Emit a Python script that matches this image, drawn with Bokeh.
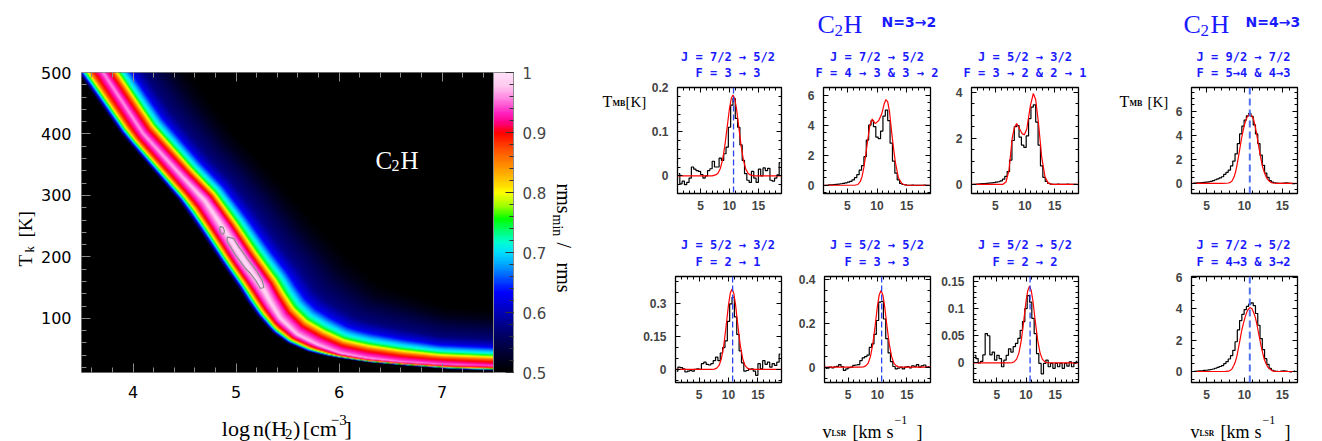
import numpy as np
from bokeh.plotting import figure
from bokeh.layouts import row, column
from bokeh.models import (LinearColorMapper, ColorBar, SingleIntervalTicker, LinearAxis, Label, Span,
                          CustomJSTickFormatter, Range1d, Spacer)
from bokeh.embed import file_html
from bokeh.resources import INLINE

# ===================== DATA =====================
# --- rms_min/rms map of C2H (log n(H2) vs Tk) ---
logn_range = (3.5, 7.5)
tk_range = (12, 500)
# crest of the map (brightest band)
ridge_logn = [3.45, 3.71, 4.10, 4.48, 4.70, 4.89, 5.07, 5.26, 5.33, 5.43, 5.59, 5.79, 6.01, 6.27, 6.60, 7.00, 7.50, 8.00]
ridge_tk   = [560, 500, 400, 330, 291, 243, 195, 149, 127, 100, 74, 57, 43, 35, 29, 25, 22.5, 21.5]
ridge_peak = [0.96, 0.96, 0.965, 0.975, 0.985, 0.995, 1.0, 0.995, 0.99, 0.985, 0.98, 0.975, 0.97, 0.965, 0.96, 0.955, 0.945, 0.94]
# where the map falls to 0.5 below / above the crest
lower_edge_logn = [3.20, 3.46, 3.88, 4.24, 4.44, 4.64, 4.83, 5.02, 5.10, 5.21, 5.36, 5.50, 5.70, 5.885, 6.30, 6.73, 7.10, 7.50, 8.00]
lower_edge_tk   = [560, 500, 400, 330, 291, 243, 195, 149, 127, 102, 75, 59, 45, 38, 28, 22, 17, 15, 14]
upper_edge_logn = [4.30, 4.55, 5.00, 5.45, 5.755, 6.10, 6.40, 7.05, 7.50, 8.00]
upper_edge_tk   = [560, 500, 400, 320, 260, 200, 157, 120, 115, 112]
# value profile across the band (fraction of the distance crest -> edge)
lower_prof_u = [0, 0.12, 0.3, 0.45, 0.55, 0.63, 0.7, 0.77, 0.87, 1.0]
lower_prof_v = [1.0, 0.97, 0.94, 0.9, 0.85, 0.8, 0.75, 0.7, 0.6, 0.5]
upper_prof_u = [0, 0.035, 0.08, 0.12, 0.15, 0.18, 0.21, 0.27, 0.35, 0.47, 0.65, 0.82, 1.0]
upper_prof_v = [1.0, 0.97, 0.94, 0.9, 0.85, 0.8, 0.75, 0.7, 0.63, 0.58, 0.55, 0.52, 0.5]
# minimum-rms contours
cont1_logn = [4.850, 4.876, 4.888, 4.882, 4.862, 4.846, 4.840, 4.850]
cont1_tk   = [249.9, 247.7, 242.3, 238.0, 236.9, 240.7, 246.1, 249.9]
cont2_logn = [4.914, 4.979, 5.027, 5.076, 5.108, 5.157, 5.206, 5.254, 5.270, 5.238, 5.189, 5.141, 5.092, 5.044, 4.995, 4.947, 4.914, 4.914]
cont2_tk   = [232.6, 229.8, 216.3, 205.5, 197.4, 186.5, 175.7, 162.2, 150.3, 148.6, 162.2, 173.0, 181.1, 191.9, 202.8, 216.3, 224.4, 232.6]
# colour scale
cbar_levels = [0.5, 0.511, 0.539, 0.567, 0.589, 0.611, 0.633, 0.656, 0.678, 0.70, 0.717, 0.733, 0.756,
               0.778, 0.80, 0.817, 0.844, 0.872, 0.90, 0.917, 0.933, 0.956, 0.978, 1.0]
cbar_colors = ["#000000", "#000010", "#000040", "#000070", "#0000a0", "#0000d0", "#0000ff", "#0050ff",
               "#00a0ff", "#00e0ff", "#00ffd0", "#00ff80", "#00ff00", "#a0ff00", "#ffff00", "#ffd000",
               "#ff9000", "#ff5000", "#ff0000", "#ff0080", "#ff20c0", "#ff80e0", "#ffc8f0", "#ffe0f8"]

# --- spectra ---
v_sys = 10.7
v_left = np.arange(1.2, 18.85, 0.4)      # channels, N=3-2 panels
v_right = np.arange(3.2, 16.75, 0.3)     # channels, N=4-3 panels

obs_72_33 = [0.005, -0.018, -0.012, -0.02, -0.015, -0.005, 0.02, 0.015, 0.012, 0.01, 0.003, -0.005, 0.0, 0.012, 0.016,
             0.033, 0.02, 0.02, 0.04, 0.035, 0.05, 0.065, 0.11, 0.16, 0.175, 0.13, 0.11, 0.07, 0.035, 0.005,
             -0.01, -0.015, 0.01, -0.005, -0.015, 0.015, 0.0, 0.018, 0.012, 0.017, -0.01, -0.012, -0.005, 0.002, 0.03]
mod_72_33_v = [1.0, 7.0, 7.6, 8.0, 8.4, 8.8, 9.2, 9.6, 10.0, 10.3, 10.6, 10.9, 11.2, 11.6, 12.0, 12.4, 12.8, 13.2, 13.6, 14.2, 19.0]
mod_72_33_t = [0.0, 0.0, 0.002, 0.006, 0.016, 0.036, 0.069, 0.111, 0.153, 0.175, 0.183, 0.175, 0.153, 0.111, 0.069,
               0.036, 0.016, 0.006, 0.002, 0.0, 0.0]

obs_72_43 = [0.0, 0.0, 0.02, 0.03, 0.05, 0.06, 0.08, 0.1, 0.13, 0.16, 0.2, 0.26, 0.35, 0.5, 0.7, 1.0, 1.3, 1.9, 3.0,
             4.0, 4.3, 3.9, 3.2, 3.1, 3.6, 4.6, 5.0, 4.3, 2.8, 1.6, 0.8, 0.35, 0.12, 0.05, 0.02, 0.0, 0.0, 0.01, 0.0,
             -0.01, 0.0, 0.0, 0.01, 0.0, 0.0]
mod_72_43_v = [1.0, 6.2, 6.8, 7.2, 7.5, 7.8, 8.1, 8.4, 8.8, 9.2, 9.7, 10.3, 10.8, 11.2, 11.5, 11.8, 12.1, 12.5, 12.8,
               13.1, 13.6, 14.2, 15.0, 19.0]
mod_72_43_t = [0.0, 0.0, 0.05, 0.25, 0.6, 1.2, 2.0, 2.9, 4.0, 4.4, 4.1, 4.3, 4.75, 5.4, 5.7, 5.55, 4.9, 3.4, 2.4,
               1.5, 0.5, 0.1, 0.0, 0.0]

obs_52_32 = [0.0, 0.0, 0.01, 0.02, 0.03, 0.03, 0.04, 0.05, 0.06, 0.07, 0.09, 0.11, 0.15, 0.22, 0.34, 0.55, 1.05, 1.9,
             2.5, 2.55, 2.05, 1.7, 1.6, 2.1, 2.85, 3.35, 3.45, 2.7, 1.7, 0.8, 0.3, 0.12, 0.04, 0.01, 0.0, 0.0, 0.01,
             0.0, 0.0, 0.0, 0.01, 0.0, 0.0, 0.0, 0.0]
mod_52_32_v = [1.0, 6.3, 6.8, 7.3, 7.85, 8.2, 8.6, 9.1, 9.5, 9.9, 10.3, 10.9, 11.4, 11.8, 12.25, 12.8, 13.35, 13.9, 14.5, 19.0]
mod_52_32_t = [0.0, 0.0, 0.1, 0.6, 2.0, 2.45, 2.64, 2.4, 2.2, 2.15, 2.4, 3.4, 3.94, 3.67, 2.7, 1.2, 0.34, 0.05, 0.0, 0.0]

obs_52_21 = [-0.008, 0.01, 0.008, 0.003, -0.012, -0.008, -0.005, -0.008, 0.0, 0.003, 0.0, 0.026, 0.033, 0.023, 0.02,
             0.026, 0.04, 0.056, 0.04, 0.075, 0.1, 0.13, 0.22, 0.3, 0.33, 0.24, 0.16, 0.085, 0.03, -0.008, -0.005,
             0.0, 0.003, -0.008, -0.027, 0.026, 0.003, 0.04, 0.023, 0.033, 0.01, 0.026, 0.018, 0.033, 0.07]
mod_52_21_v = [1.0, 7.0, 7.6, 8.0, 8.4, 8.8, 9.2, 9.6, 10.0, 10.3, 10.6, 10.9, 11.2, 11.6, 12.0, 12.4, 12.8, 13.2, 13.6, 14.2, 19.0]
mod_52_21_t = [0.0, 0.0, 0.0014, 0.006, 0.018, 0.05, 0.11, 0.199, 0.295, 0.348, 0.368, 0.348, 0.295, 0.199, 0.11,
               0.05, 0.018, 0.006, 0.0014, 0.0, 0.0]

obs_55_33 = [-0.006, -0.004, 0.0, -0.003, 0.002, 0.004, 0.012, 0.003, -0.015, -0.008, -0.002, 0.0, 0.008, 0.01, 0.012,
             0.03, 0.042, 0.048, 0.055, 0.09, 0.106, 0.15, 0.213, 0.297, 0.3, 0.22, 0.13, 0.065, 0.025, 0.003, -0.008,
             -0.004, 0.0, -0.008, 0.0, 0.003, -0.003, 0.006, 0.004, 0.012, 0.0, 0.006, 0.01, 0.0, 0.003]
mod_55_33_v = [1.0, 7.0, 7.6, 8.0, 8.4, 8.8, 9.2, 9.6, 10.0, 10.3, 10.6, 10.9, 11.2, 11.6, 12.0, 12.4, 12.8, 13.2, 13.6, 14.2, 19.0]
mod_55_33_t = [0.0, 0.0, 0.0013, 0.0057, 0.017, 0.048, 0.105, 0.189, 0.281, 0.331, 0.35, 0.331, 0.281, 0.189, 0.105,
               0.048, 0.017, 0.0057, 0.0013, 0.0, 0.0]

obs_55_22 = [0.014, 0.008, 0.0, 0.003, 0.015, 0.054, 0.05, 0.015, 0.02, 0.005, 0.014, 0.008, -0.007, 0.005, 0.014,
             0.026, 0.02, 0.03, 0.036, 0.045, 0.06, 0.076, 0.1, 0.124, 0.112, 0.082, 0.054, 0.017, -0.001, -0.02,
             -0.001, 0.005, -0.007, -0.001, -0.01, -0.001, -0.007, -0.001, -0.01, -0.001, -0.006, 0.002, -0.007,
             -0.001, 0.003]
mod_55_22_v = [1.0, 7.0, 7.6, 8.0, 8.4, 8.8, 9.2, 9.6, 10.0, 10.3, 10.6, 10.9, 11.2, 11.6, 12.0, 12.4, 12.8, 13.2, 13.6, 14.2, 19.0]
mod_55_22_t = [0.0, 0.0, 0.0005, 0.0023, 0.007, 0.019, 0.042, 0.076, 0.113, 0.133, 0.141, 0.133, 0.113, 0.076, 0.042,
               0.019, 0.007, 0.0023, 0.0005, 0.0, 0.0]

obs_97_54 = [0.0, 0.02, 0.04, 0.05, 0.07, 0.09, 0.1, 0.13, 0.17, 0.22, 0.3, 0.38, 0.45, 0.55, 0.75, 0.92, 1.1, 1.45,
             1.85, 2.45, 3.3, 4.1, 4.75, 5.25, 5.6, 5.8, 5.55, 4.85, 4.1, 3.3, 2.35, 1.5, 0.85, 0.5, 0.22, 0.1, 0.05,
             0.03, 0.01, 0.0, 0.02, 0.05, 0.03, 0.0, -0.02, -0.03]
mod_97_54_v = [3.0, 7.0, 7.6, 7.9, 8.1, 8.35, 8.6, 8.8, 9.0, 9.2, 9.4, 9.6, 9.85, 10.1, 10.35, 10.65, 10.95, 11.2,
               11.4, 11.6, 11.8, 12.0, 12.2, 12.4, 12.6, 12.85, 13.05, 13.3, 13.5, 13.7, 14.0, 14.2, 17.0]
mod_97_54_t = [0.0, 0.0, 0.01, 0.03, 0.08, 0.2, 0.5, 0.9, 1.5, 2.2, 2.95, 3.7, 4.45, 5.1, 5.5, 5.75, 5.6, 5.3,
               4.75, 4.1, 3.35, 2.6, 1.95, 1.35, 0.95, 0.55, 0.33, 0.17, 0.08, 0.03, 0.01, 0.0, 0.0]

obs_72_43b = [0.0, 0.01, 0.03, 0.04, 0.05, 0.07, 0.08, 0.1, 0.13, 0.16, 0.21, 0.26, 0.32, 0.38, 0.5, 0.63, 0.8, 1.02,
              1.35, 1.9, 2.65, 3.25, 3.65, 3.95, 4.15, 4.3, 4.38, 4.2, 3.7, 2.95, 2.1, 1.4, 0.82, 0.45, 0.2, 0.08,
              0.03, 0.01, 0.0, 0.02, 0.04, 0.02, 0.0, -0.02, 0.0, 0.02]
mod_72_43b_v = [3.0, 7.0, 7.5, 7.9, 8.1, 8.35, 8.6, 8.8, 9.0, 9.2, 9.4, 9.6, 9.85, 10.1, 10.4, 10.7, 11.0, 11.15,
                11.4, 11.6, 11.8, 12.0, 12.2, 12.4, 12.6, 12.85, 13.05, 13.3, 13.7, 14.2, 17.0]
mod_72_43b_t = [0.0, 0.0, 0.005, 0.02, 0.07, 0.17, 0.4, 0.64, 1.0, 1.5, 2.0, 2.55, 3.05, 3.5, 3.9, 4.08, 4.0, 3.83,
                3.5, 3.1, 2.6, 2.1, 1.6, 1.17, 0.8, 0.49, 0.3, 0.17, 0.04, 0.0, 0.0]

# panel titles
titles = {
    "a": ("J = 7/2 → 5/2", "F = 3 → 3"),
    "b": ("J = 7/2 → 5/2", "F = 4 → 3 & 3 → 2"),
    "c": ("J = 5/2 → 3/2", "F = 3 → 2 & 2 → 1"),
    "g": ("J = 9/2 → 7/2", "F = 5→4 & 4→3"),
    "d": ("J = 5/2 → 3/2", "F = 2 → 1"),
    "e": ("J = 5/2 → 5/2", "F = 3 → 3"),
    "f": ("J = 5/2 → 5/2", "F = 2 → 2"),
    "h": ("J = 7/2 → 5/2", "F = 4→3 & 3→2"),
}

# ===================== HELPERS =====================
BLUE = "#1a1aff"
SERIF = "Liberation Serif"
MONO = "DejaVu Sans Mono"
fmt = CustomJSTickFormatter(code="return parseFloat(tick.toFixed(4)).toString();")


def text_fig(x0, y0, w, h):
    """A blank canvas (frame = whole figure) used only to hold free text; coordinates = page pixels."""
    p = figure(width=w, height=h, x_range=Range1d(x0, x0 + w), y_range=Range1d(y0 + h, y0),
               output_backend="svg", toolbar_location=None, x_axis_type=None, y_axis_type=None,
               min_border_left=0, min_border_right=0, min_border_top=0, min_border_bottom=0)
    p.outline_line_color = None
    p.title.visible = False
    return p


def txt(p, text, x, y, size, font=SERIF, color="black", style="normal", align="left",
        baseline="alphabetic", angle=0.0):
    p.add_layout(Label(x=x, y=y, text=text, text_font=font, text_font_size=f"{size}px", text_color=color,
                       text_font_style=style, text_align=align, text_baseline=baseline, angle=angle))


def mirror_axis(p, ticker, side, color, tin):
    ax = LinearAxis(ticker=ticker, major_label_text_font_size="1px", major_label_text_color=None,
                    major_tick_in=tin[0], major_tick_out=0, minor_tick_in=tin[1], minor_tick_out=0,
                    axis_line_color=None, major_label_standoff=0, major_tick_line_color=color,
                    minor_tick_line_color=color)
    p.add_layout(ax, side)


def poly_nearest(cx, cy, X, Y):
    ax, ay = cx[:-1], cy[:-1]
    dx, dy = cx[1:] - ax, cy[1:] - ay
    L2 = dx * dx + dy * dy
    rx = X[:, None] - ax[None, :]
    ry = Y[:, None] - ay[None, :]
    t = np.clip((rx * dx + ry * dy) / L2, 0, 1)
    d = np.hypot(rx - t * dx, ry - t * dy)
    i = np.argmin(d, axis=1)
    n = np.arange(len(X))
    cross = dx[i] * ry[n, i] - dy[i] * rx[n, i]
    return d[n, i], np.sign(cross), i, t[n, i]


# ===================== HEATMAP =====================
NX, NY = 412, 300


def to_px(logn, tk):
    return ((np.asarray(logn, float) - logn_range[0]) / (logn_range[1] - logn_range[0]) * NX,
            (np.asarray(tk, float) - tk_range[0]) / (tk_range[1] - tk_range[0]) * NY)


rx_, ry_ = to_px(ridge_logn, ridge_tk)
lx_, ly_ = to_px(lower_edge_logn, lower_edge_tk)
ux_, uy_ = to_px(upper_edge_logn, upper_edge_tk)
peak_arr = np.array(ridge_peak)
field = np.zeros((NY, NX))
Xs = np.arange(NX) + 0.5
for j in range(NY):
    Ys = np.full(NX, j + 0.5)
    dR, sR, iR, tR = poly_nearest(rx_, ry_, Xs, Ys)
    peak = peak_arr[iR] * (1 - tR) + peak_arr[iR + 1] * tR
    dL, sL, _, _ = poly_nearest(lx_, ly_, Xs, Ys)
    dU, sU, _, _ = poly_nearest(ux_, uy_, Xs, Ys)
    low = sR < 0
    dB = np.where(low, np.where(sL > 0, dL, -dL), np.where(sU < 0, dU, -dU))
    tot = dR + dB
    s = np.where((dB > 0) & (tot > 1e-9), dR / np.maximum(tot, 1e-9), 2.0)
    prof = np.where(low, np.interp(s, lower_prof_u, lower_prof_v), np.interp(s, upper_prof_u, upper_prof_v))
    field[j] = 0.5 + (prof - 0.5) * (peak - 0.5) / 0.5

rgb = np.array([[int(c[k:k + 2], 16) for k in (1, 3, 5)] for c in cbar_colors], float)
palette = ["#%02x%02x%02x" % tuple(int(round(np.interp(l, cbar_levels, rgb[:, k]))) for k in range(3))
           for l in np.linspace(0.5, 1.0, 256)]
mapper = LinearColorMapper(palette=palette, low=0.5, high=1.0)

GREY = "#8a8a8a"
pA = figure(width=514, height=405, x_range=Range1d(*logn_range), y_range=Range1d(*tk_range),
            output_backend="svg", toolbar_location=None,
            min_border_left=45, min_border_right=57, min_border_top=72, min_border_bottom=33)
pA.title.visible = False
pA.grid.visible = False
pA.background_fill_color = "black"
pA.outline_line_color = GREY
pA.image(image=[field], x=logn_range[0], y=tk_range[0], dw=logn_range[1] - logn_range[0],
         dh=tk_range[1] - tk_range[0], color_mapper=mapper)
pA.line(cont1_logn, cont1_tk, line_color="#8c8c8c", line_width=1.2)
pA.line(cont2_logn, cont2_tk, line_color="#8c8c8c", line_width=1.2)
pA.xaxis.ticker = SingleIntervalTicker(interval=1, num_minor_ticks=5)
pA.yaxis.ticker = SingleIntervalTicker(interval=100, num_minor_ticks=5)
for ax in (pA.xaxis[0], pA.yaxis[0]):
    ax.major_tick_in = 9; ax.major_tick_out = 0; ax.minor_tick_in = 5; ax.minor_tick_out = 0
    ax.major_tick_line_color = GREY; ax.minor_tick_line_color = GREY
    ax.axis_line_color = None
    ax.major_label_text_font = "DejaVu Sans"; ax.major_label_text_font_size = "16px"
    ax.major_label_text_color = "black"
pA.xaxis.major_label_standoff = 13
pA.yaxis.major_label_standoff = 10
mirror_axis(pA, SingleIntervalTicker(interval=1, num_minor_ticks=5), "above", GREY, (9, 5))
cb = ColorBar(color_mapper=mapper, width=20, padding=0, margin=0, location="top_left",
              ticker=SingleIntervalTicker(interval=0.1, num_minor_ticks=5), formatter=fmt,
              major_label_text_font="DejaVu Sans", major_label_text_font_size="15px", label_standoff=9,
              major_tick_line_color="#333333", major_tick_in=8, minor_tick_line_color="#333333", minor_tick_in=4,
              bar_line_color=GREY)
pA.add_layout(cb, "right")
# name of the molecule inside the map (frame-relative screen units)
for t_, x_, y_, s_ in (("C", 375, 160, 25), ("2", 391, 165, 16), ("H", 400, 160, 25)):
    pA.add_layout(Label(x=x_ - 81, y=372 - y_, x_units="screen", y_units="screen", text=t_, text_font=SERIF,
                        text_font_size=f"{s_}px", text_color="white", text_baseline="alphabetic"))

# text strips around the map
tA_left = text_fig(0, 0, 36, 441)
txt(tA_left, "T", 25, 266, 19, angle=np.pi / 2)
txt(tA_left, "k", 29, 252, 13, angle=np.pi / 2)
txt(tA_left, "[K]", 25, 237, 19, angle=np.pi / 2)
tA_bot = text_fig(36, 405, 514, 36)
txt(tA_bot, "log", 211, 428, 22)
txt(tA_bot, "n(H", 250, 428, 22)
txt(tA_bot, "2", 290, 433, 15)
txt(tA_bot, ")", 300, 428, 22)
txt(tA_bot, "[cm", 312, 428, 22)
txt(tA_bot, "−3", 347, 419, 15)
txt(tA_bot, "]", 364, 428, 22)
tA_right = text_fig(550, 0, 50, 441)
txt(tA_right, "rms", 563, 183, 20, angle=-np.pi / 2)
txt(tA_right, "min", 557, 214, 14, angle=-np.pi / 2)
txt(tA_right, "/", 563, 242, 20, angle=-np.pi / 2)
txt(tA_right, "rms", 563, 262, 20, angle=-np.pi / 2)


# ===================== SPECTRA =====================
def spec(w, h, fl, ft, fw, fh, xr, yr, yint, ynm, v, tobs, vm, tm, dashed, right_col):
    p = figure(width=w, height=h, x_range=Range1d(*xr), y_range=Range1d(*yr), output_backend="svg",
               toolbar_location=None, min_border_left=fl, min_border_right=w - fl - fw,
               min_border_top=ft, min_border_bottom=h - ft - fh)
    p.title.visible = False
    p.grid.visible = False
    p.outline_line_color = "black"
    p.outline_line_width = 1.3
    p.xaxis.ticker = SingleIntervalTicker(interval=5, num_minor_ticks=5)
    p.yaxis.ticker = SingleIntervalTicker(interval=yint, num_minor_ticks=ynm)
    for ax in (p.xaxis[0], p.yaxis[0]):
        ax.major_tick_in = 5; ax.major_tick_out = 0; ax.minor_tick_in = 3; ax.minor_tick_out = 0
        ax.major_tick_line_color = "black"; ax.minor_tick_line_color = "black"
        ax.axis_line_color = None
        ax.major_label_text_font = "Liberation Sans"; ax.major_label_text_font_size = "12px"
        ax.major_label_text_font_style = "bold"
        ax.formatter = fmt
    p.xaxis.major_label_standoff = 7
    p.yaxis.major_label_standoff = 9
    mirror_axis(p, SingleIntervalTicker(interval=5, num_minor_ticks=5), "above", "black", (5, 3))
    mirror_axis(p, SingleIntervalTicker(interval=yint, num_minor_ticks=ynm), "right", "black", (5, 3))
    p.step(v, tobs, mode="center", line_color="black", line_width=1.2)
    p.line(vm, tm, line_color="#ff0000", line_width=1.2)
    if dashed:
        if right_col:
            p.add_layout(Span(location=v_sys, dimension="height", line_color="#5070f0", line_dash="7 4", line_width=2))
        else:
            p.add_layout(Span(location=v_sys, dimension="height", line_color="#2b44f2", line_dash="6 3", line_width=1.3))
    return p


L = (1, 19)
R = (3, 17)
# row 1 (page y 80..230, frames 87..193)
p1 = spec(147, 150, 26, 7, 107, 106, L, (-0.04, 0.2), 0.1, 5, v_left, obs_72_33, mod_72_33_v, mod_72_33_t, True, False)
p2 = spec(143, 150, 28, 7, 107, 106, L, (-0.55, 6.5), 2, 4, v_left, obs_72_43, mod_72_43_v, mod_72_43_t, False, False)
p3 = spec(162, 150, 33, 7, 107, 106, L, (-0.4, 4.2), 2, 4, v_left, obs_52_32, mod_52_32_v, mod_52_32_t, False, False)
p4 = spec(150, 150, 17, 7, 108, 106, R, (-0.84, 7.95), 2, 4, v_right, obs_97_54, mod_97_54_v, mod_97_54_t, True, True)
# row 2 (page y 270..405, frames 276..382)
p5 = spec(155, 135, 34, 6, 107, 106, L, (-0.06, 0.425), 0.15, 3, v_left, obs_52_21, mod_52_21_v, mod_52_21_t, True, False)
p6 = spec(143, 135, 28, 6, 107, 106, L, (-0.07, 0.414), 0.2, 4, v_left, obs_55_33, mod_55_33_v, mod_55_33_t, True, False)
p7 = spec(162, 135, 33, 6, 107, 106, L, (-0.036, 0.159), 0.05, 5, v_left, obs_55_22, mod_55_22_v, mod_55_22_t, True, False)
p8 = spec(150, 135, 17, 6, 108, 106, R, (-0.7, 6.06), 2, 4, v_right, obs_72_43b, mod_72_43b_v, mod_72_43b_t, True, True)

frame_centers = [727.5, 876.5, 1024.5, 1243]
# top strip: headers + row-1 titles
t_top = text_fig(600, 0, 722, 80)
txt(t_top, "C", 817, 24, 26, color=BLUE)
txt(t_top, "2", 834, 30, 17, color=BLUE)
txt(t_top, "H", 843, 24, 26, color=BLUE)
txt(t_top, "N=3→2", 881, 21, 14, font="DejaVu Sans", color=BLUE, style="bold")
txt(t_top, "C", 1183, 24, 26, color=BLUE)
txt(t_top, "2", 1200, 30, 17, color=BLUE)
txt(t_top, "H", 1210, 24, 26, color=BLUE)
txt(t_top, "N=4→3", 1245, 21, 14, font="DejaVu Sans", color=BLUE, style="bold")
for xc, key in zip(frame_centers, "abcg"):
    txt(t_top, titles[key][0], xc, 56, 12, font=MONO, color=BLUE, style="bold", align="center", baseline="middle")
    txt(t_top, titles[key][1], xc, 72, 12, font=MONO, color=BLUE, style="bold", align="center", baseline="middle")
# middle strip: row-2 titles
t_mid = text_fig(600, 230, 722, 40)
for xc, key in zip(frame_centers, "defh"):
    txt(t_mid, titles[key][0], xc, 244, 12, font=MONO, color=BLUE, style="bold", align="center", baseline="middle")
    txt(t_mid, titles[key][1], xc, 261.5, 12, font=MONO, color=BLUE, style="bold", align="center", baseline="middle")
# y-axis captions
t_tmb1 = text_fig(600, 80, 48, 150)
txt(t_tmb1, "T", 602, 100, 16)
txt(t_tmb1, "MB", 612, 102, 8, style="bold")
txt(t_tmb1, "[K]", 625, 100, 15)
t_tmb2 = text_fig(1100, 80, 72, 150)
txt(t_tmb2, "T", 1119, 100, 16)
txt(t_tmb2, "MB", 1129, 102, 8, style="bold")
txt(t_tmb2, "[K]", 1147, 100, 15)
# bottom strip: velocity captions
t_bot = text_fig(600, 405, 722, 36)
for x0 in (822, 1190):
    txt(t_bot, "v", x0, 431, 18)
    txt(t_bot, "LSR", x0 + 9, 433, 7.5, style="bold")
    txt(t_bot, "[km", x0 + 30, 431, 18)
    txt(t_bot, "s", x0 + 64, 431, 18)
    txt(t_bot, "−1", x0 + 72, 419, 12)
    txt(t_bot, "]", x0 + 94, 431, 18)

left_block = row(tA_left, column(pA, tA_bot), tA_right)
right_block = column(
    t_top,
    row(t_tmb1, p1, p2, p3, t_tmb2, p4),
    t_mid,
    row(Spacer(width=40, height=135), p5, p6, p7, Spacer(width=72, height=135), p8),
    t_bot,
)
layout = row(left_block, right_block)
open("out.html", "w").write(file_html(layout, INLINE))
